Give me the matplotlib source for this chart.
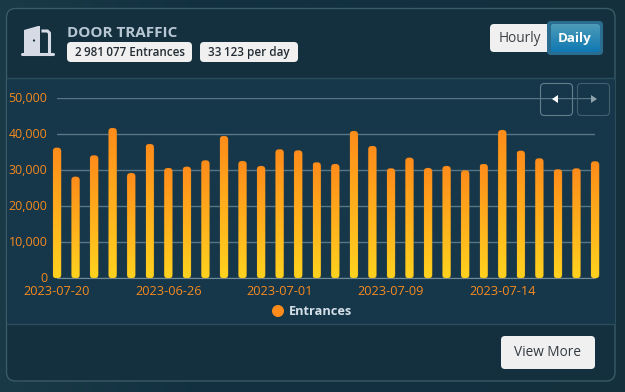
import numpy as np
import matplotlib
matplotlib.use('Agg')
import matplotlib.pyplot as plt
from matplotlib.colors import LinearSegmentedColormap
from matplotlib.patches import FancyBboxPatch, Circle, Polygon, Rectangle
from matplotlib.transforms import ScaledTranslation

plt.rcParams['font.family'] = ['Open Sans', 'Noto Sans', 'DejaVu Sans']

entrances = [36280, 28220, 34160, 41750, 29250, 37300, 30640, 31000, 32770, 39530,
             32580, 31200, 35830, 35550, 32220, 31750, 40920, 36750, 30550, 33500,
             30640, 31200, 30000, 31750, 41200, 35440, 33330, 30280, 30550, 32500]
date_ticks = [0, 6, 12, 18, 24]
date_labels = ['2023-07-20', '2023-06-26', '2023-07-01', '2023-07-09', '2023-07-14']
y_ticks = [0, 10000, 20000, 30000, 40000, 50000]

W, H = 625, 392
ORANGE = '#f58a1f'
GRID = '#587684'
LINE = '#2b4c5b'


def rounded(ax, x0, y0, x1, y1, r, **kw):
    p = FancyBboxPatch((x0, y0), x1 - x0, y1 - y0, boxstyle=f'round,pad=0,rounding_size={r}', **kw)
    ax.add_patch(p)
    return p


def gradient_box(ax, x0, y0, x1, y1, r, top, bottom, zorder):
    cmap = LinearSegmentedColormap.from_list('g', [top, bottom])
    im = ax.imshow(np.linspace(0, 1, 64).reshape(-1, 1), cmap=cmap, aspect='auto',
                   extent=(x0, x1, y1, y0), zorder=zorder)
    clip = FancyBboxPatch((x0, y0), x1 - x0, y1 - y0, boxstyle=f'round,pad=0,rounding_size={r}',
                          transform=ax.transData, fc='none', ec='none')
    ax.add_patch(clip)
    im.set_clip_path(clip)


def main():
    fig = plt.figure(figsize=(W / 100, H / 100), dpi=100)

    # --- page and card, drawn in pixel coordinates ---
    bg = fig.add_axes([0, 0, 1, 1], zorder=0)
    page = LinearSegmentedColormap.from_list('page', ['#1b3a47', '#123040', '#123040', '#15303d'])
    bg.imshow(np.linspace(0, 1, 256).reshape(1, -1), cmap=page, aspect='auto', extent=(0, W, H, 0))
    rounded(bg, 6.5, 8.5, 615, 381, 9, fc='#14303f', ec='#3a5a68', lw=1)
    bg.add_patch(Rectangle((7, 77.5), 607.5, 246, fc='#16374a', ec='none'))
    bg.plot([7, 615], [77.5, 77.5], color=LINE, lw=1)
    bg.plot([7, 615], [323.5, 323.5], color=LINE, lw=1)

    # door icon
    icon = '#d5dae5'
    bg.add_patch(Polygon([(24, 30), (38, 26), (40, 26), (40, 54), (24, 54)], fc=icon, ec='none'))
    bg.add_patch(Circle((34, 40.5), 1.1, fc='#14303f', ec='none'))
    bg.plot([21.5, 53], [53.5, 53.5], color=icon, lw=2.2, solid_capstyle='round')
    bg.plot([43, 47.5, 49.5, 49.5], [31, 31, 33, 53], color=icon, lw=2.2, solid_joinstyle='round')

    # header
    bg.text(67, 32.5, 'DOOR TRAFFIC', color='#b8c7d4', fontsize=11, fontweight='bold', va='center')
    rounded(bg, 67, 42, 192, 62, 4, fc='#f0f0f0', ec='none')
    rounded(bg, 200, 42, 298, 62, 4, fc='#f0f0f0', ec='none')
    bg.text(75, 52.5, '2\u2009981\u2009077 Entrances', color='#222b33', fontsize=8.35,
            fontweight='semibold', va='center')
    bg.text(208, 52.5, '33\u2009123 per day', color='#222b33', fontsize=8.35,
            fontweight='semibold', va='center')

    # hourly / daily toggle
    rounded(bg, 490, 24, 552, 52, 4, fc='#f0f0f0', ec='none')
    rounded(bg, 547, 21, 603, 55, 4, fc='#2b6d91', ec='none')
    gradient_box(bg, 550.5, 24, 600, 52, 3, '#4d9cb8', '#0f78b3', 2)
    bg.text(520, 38.5, 'Hourly', color='#3a3f45', fontsize=9.8, ha='center', va='center')
    bg.text(575, 38.5, 'Daily', color='white', fontsize=9.6, fontweight='bold', ha='center', va='center')

    # footer button
    rounded(bg, 501, 336, 595, 369, 4, fc='#f0f0f0', ec='none')
    bg.text(548, 352.5, 'View More', color='#33393f', fontsize=9.8, ha='center', va='center')

    # legend
    bg.add_patch(Circle((278, 311), 6, fc='#ff8c1a', ec='none'))
    bg.text(289, 311.5, 'Entrances', color='#d5dfe8', fontsize=9.2, fontweight='bold', va='center')

    bg.set_xlim(0, W)
    bg.set_ylim(H, 0)
    bg.axis('off')

    # --- bar chart ---
    ax = fig.add_axes([57 / W, (H - 278.3) / H, 538 / W, 180 / H], zorder=1)
    ax.patch.set_alpha(0)
    x = np.arange(len(entrances))
    bars = ax.bar(x, entrances, width=0.45, color='none', zorder=2)

    cmap = LinearSegmentedColormap.from_list('bar', ['#ffd21f', '#ff8c1a'])
    aspect = (10000 / 36) / (1 / (538 / 29))
    for bar in bars:
        x0, w, h = bar.get_x(), bar.get_width(), bar.get_height()
        im = ax.imshow(np.linspace(1, 0, 64).reshape(-1, 1), cmap=cmap, aspect='auto',
                       extent=(x0, x0 + w, 0, h), zorder=2)
        clip = FancyBboxPatch((x0, 0), w, h, boxstyle='round,pad=0,rounding_size=0.19',
                              mutation_aspect=aspect, fc='none', ec='#9a6a2a', lw=0.4,
                              alpha=0.3, zorder=3, clip_on=False)
        ax.add_patch(clip)
        im.set_clip_path(clip)
        # first and last bars hang over the axes edge
        im.set_clip_box(fig.bbox)

    ax.set_xlim(0, len(entrances) - 1)
    ax.set_ylim(0, 50000)
    ax.set_xticks(date_ticks, date_labels)
    ax.set_yticks(y_ticks, [f'{v:,}' for v in y_ticks])
    ax.tick_params(length=0, labelcolor=ORANGE)
    ax.tick_params(axis='y', pad=7, labelsize=8.9)
    ax.tick_params(axis='x', pad=5, labelsize=9.2)
    ax.yaxis.grid(True, color=GRID, lw=1)
    ax.set_axisbelow(True)
    for side in ('top', 'left', 'right'):
        ax.spines[side].set_visible(False)
    ax.spines['bottom'].set_color('#6f8b99')

    lift = ScaledTranslation(0, 1.5 / 100, fig.dpi_scale_trans)
    for lab in ax.get_yticklabels():
        lab.set_transform(lab.get_transform() + lift)

    # --- pan buttons sit over the chart ---
    top = fig.add_axes([0, 0, 1, 1], zorder=2)
    top.patch.set_alpha(0)
    rounded(top, 540.5, 83.5, 572.5, 115.5, 4, fc='none', ec='#647f8c', lw=0.8)
    rounded(top, 577.5, 83.5, 609.5, 115.5, 4, fc='none', ec='#41606e', lw=0.8)
    top.add_patch(Polygon([(552, 99), (558, 95), (558, 103)], fc='white', ec='none'))
    top.add_patch(Polygon([(597, 99), (591, 95), (591, 103)], fc='#8fa3ad', ec='none'))
    top.set_xlim(0, W)
    top.set_ylim(H, 0)
    top.axis('off')

    fig.savefig('out.png', dpi=100)


if __name__ == '__main__':
    main()
